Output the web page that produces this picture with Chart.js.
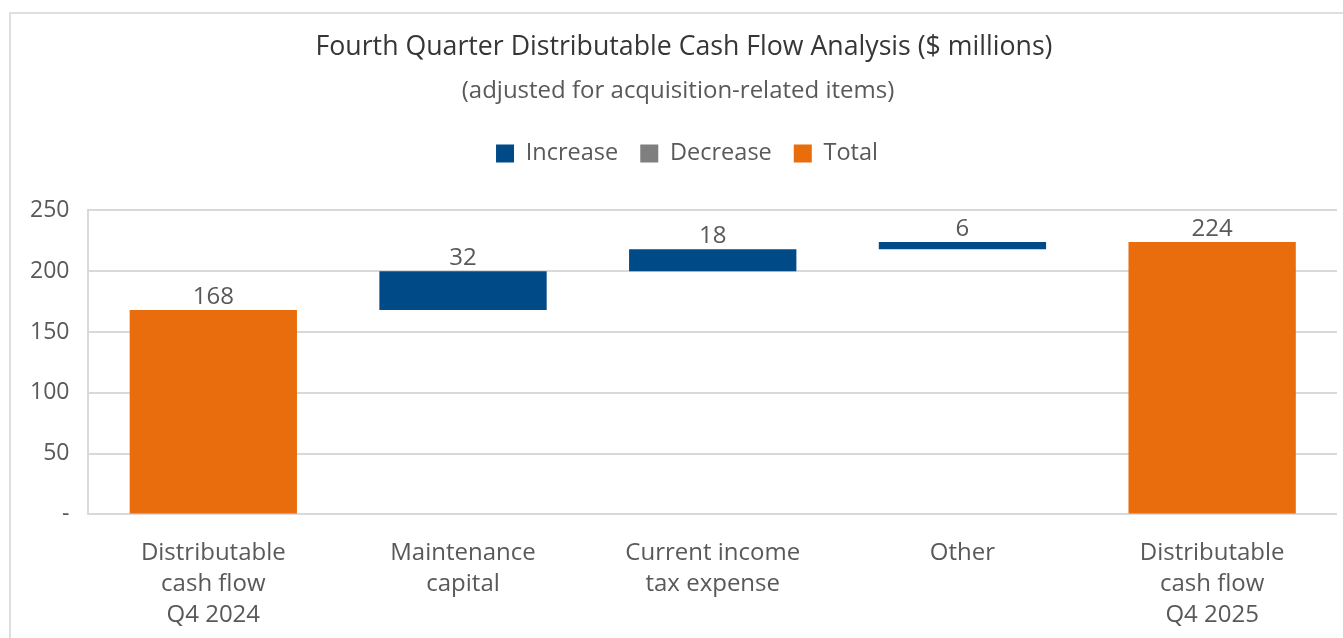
<!DOCTYPE html>
<html>
<head>
<meta charset="utf-8">
<script src="https://cdn.jsdelivr.net/npm/chart.js@4/dist/chart.umd.min.js"></script>
<style>
  body { margin: 0; background: #fff; }
  #frame { position: absolute; left: 9px; top: 12px; width: 1345px; height: 700px; border: 2px solid #dedede; box-sizing: border-box; }
  #wrap { position: absolute; left: 0; top: 0; width: 1343px; height: 638px; }
</style>
</head>
<body>
<div id="frame"></div>
<div id="wrap"><canvas id="flow"></canvas></div>
<script>
var categories = [
  ["Distributable", "cash flow", "Q4 2024"],
  ["Maintenance", "capital"],
  ["Current income", "tax expense"],
  ["Other"],
  ["Distributable", "cash flow", "Q4 2025"]
];
// floating bars: [start, end]
var increase = [null, [168, 200], [200, 218], [218, 224], null];
var decrease = [null, null, null, null, null];
var total = [[0, 168], null, null, null, [0, 224]];
var yTicks = [0, 50, 100, 150, 200, 250];

var textGrey = "#595959";
var font = "'Open Sans', 'Noto Sans', sans-serif";

var barLabels = {
  id: "barLabels",
  afterDatasetsDraw: function(chart) {
    var ctx = chart.ctx;
    ctx.save();
    ctx.font = "24px " + font;
    ctx.fillStyle = textGrey;
    ctx.textAlign = "center";
    ctx.textBaseline = "bottom";
    chart.data.datasets.forEach(function(ds, i) {
      var meta = chart.getDatasetMeta(i);
      meta.data.forEach(function(bar, j) {
        var v = ds.data[j];
        if (!v) return;
        var top = Math.min(bar.y, bar.base);
        ctx.fillText(String(v[1] - v[0]), bar.x, top - 1);
      });
    });
    ctx.restore();
  }
};

// extra room under the legend, and nudge the header block right a little
var headerTweak = {
  id: "headerTweak",
  beforeInit: function(chart) {
    var fit = chart.legend.fit;
    chart.legend.fit = function() {
      fit.bind(chart.legend)();
      this.height += 35;
    };
  },
  afterLayout: function(chart) {
    var shift = function(box, dx) {
      if (!box) return;
      box.left += dx;
      box.right += dx;
    };
    shift(chart.titleBlock, 10);
    shift(chart.legend, 13);
    chart.boxes.forEach(function(b) {
      if (b.options && b.options.text === subtitleText) shift(b, 4);
    });
  }
};

var subtitleText = "(adjusted for acquisition-related items)";
var common = { grouped: false, categoryPercentage: 1, barPercentage: 0.67 };

new Chart(document.getElementById("flow").getContext("2d"), {
  type: "bar",
  data: {
    labels: categories,
    datasets: [
      Object.assign({ label: "Increase", data: increase, backgroundColor: "#004A87" }, common),
      Object.assign({ label: "Decrease", data: decrease, backgroundColor: "#7F7F7F" }, common),
      Object.assign({ label: "Total", data: total, backgroundColor: "#E96D0D" }, common)
    ]
  },
  options: {
    responsive: true,
    maintainAspectRatio: false,
    animation: false,
    layout: { padding: { left: 11, right: 6, top: 0, bottom: 8 } },
    plugins: {
      title: {
        display: true,
        text: "Fourth Quarter Distributable Cash Flow Analysis ($ millions)",
        color: "#363636",
        font: { family: font, size: 26.7, weight: "normal" },
        padding: { top: 31, bottom: 14 }
      },
      subtitle: {
        display: true,
        text: subtitleText,
        color: textGrey,
        font: { family: font, size: 24 },
        padding: { top: 0, bottom: 14 }
      },
      legend: {
        position: "top",
        labels: {
          boxWidth: 18,
          boxHeight: 18,
          padding: 22,
          color: textGrey,
          font: { family: font, size: 23.5 }
        }
      },
      tooltip: { enabled: false }
    },
    scales: {
      x: {
        grid: { display: false },
        border: { display: false },
        afterFit: function(axis) { axis.height -= 16; },
        ticks: {
          color: textGrey,
          padding: 15,
          maxRotation: 0,
          autoSkip: false,
          font: { family: font, size: 24, lineHeight: 1.3 }
        }
      },
      y: {
        min: 0,
        max: 250,
        afterBuildTicks: function(axis) {
          axis.ticks = yTicks.map(function(v) { return { value: v }; });
        },
        grid: { color: "#d9d9d9", lineWidth: 2, drawTicks: false },
        border: { display: true, color: "#d9d9d9", width: 2 },
        ticks: {
          color: textGrey,
          padding: 19,
          font: { family: font, size: 23 },
          callback: function(v) { return v === 0 ? "-" : v; }
        }
      }
    }
  },
  plugins: [barLabels, headerTweak]
});
</script>
</body>
</html>
